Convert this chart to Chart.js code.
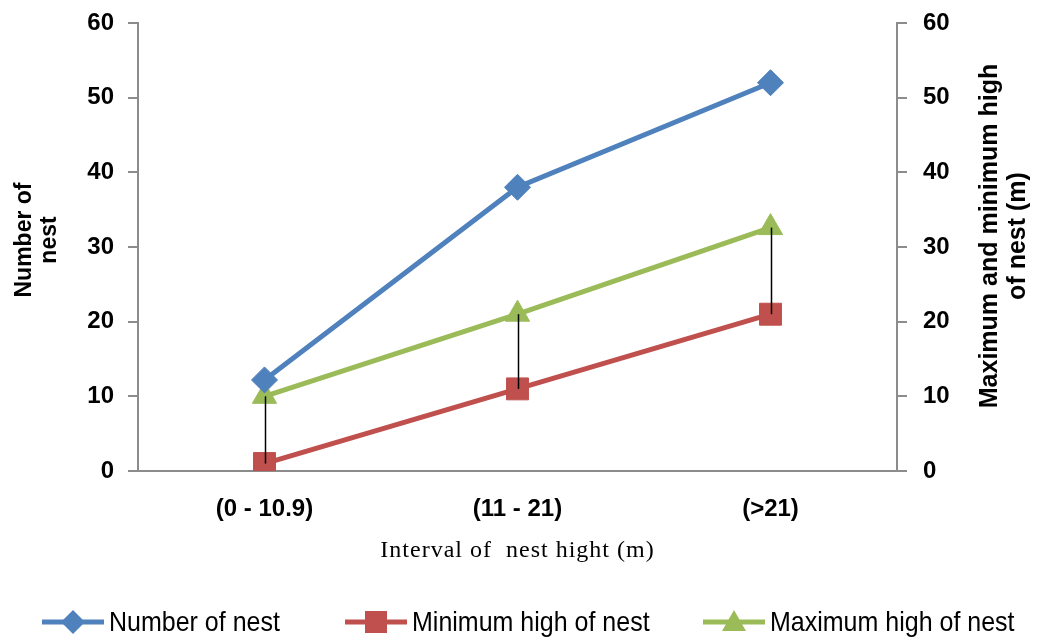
<!DOCTYPE html>
<html>
<head>
<meta charset="utf-8">
<script src="https://cdn.jsdelivr.net/npm/chart.js@4.4.1/dist/chart.umd.min.js"></script>
<style>
  html, body { margin: 0; padding: 0; background: #fff; }
  #wrap { position: relative; width: 1037px; height: 637px; overflow: hidden; }
  #legend { position: absolute; left: 0; top: 606px; width: 1037px; height: 31px; }
  .item { position: absolute; top: 0; display: flex; align-items: center; height: 31px;
          font-family: "Liberation Sans", Arial, sans-serif; font-size: 25px; color: #000; white-space: nowrap; }
  .item span { display: inline-block; transform: scaleY(1.12); }
  .item svg { margin-right: 3px; }
</style>
</head>
<body>
<div id="wrap">
  <canvas id="c" width="1037" height="637"></canvas>
  <div id="legend"></div>
</div>
<script>
// Nest height classes and counts
const categories = ['(0 - 10.9)', '(11 - 21)', '(>21)'];
const numberOfNest = [12.2, 38, 52];
const minHigh = [1, 11, 21];
const maxHigh = [10, 21, 32.6];
const yTicks = [0, 10, 20, 30, 40, 50, 60];

const seriesNames = ['Number of nest', 'Minimum high of nest', 'Maximum high of nest'];
const colors = ['#4F81BD', '#C0504D', '#9BBB59'];

const axisGray = '#8c8c8c';
const tickFont = { family: 'Liberation Sans, Arial, sans-serif', size: 24, weight: 'bold' };

// vertical high-low connectors between max and min heights
const hiLowLines = {
  id: 'hiLowLines',
  afterDatasetsDraw(chart) {
    const ctx = chart.ctx, x = chart.scales.x, y2 = chart.scales.y2;
    ctx.save();
    ctx.strokeStyle = '#000';
    ctx.lineWidth = 1.5;
    categories.forEach((c, i) => {
      const px = Math.round(x.getPixelForValue(i)) + 0.5;
      ctx.beginPath();
      ctx.moveTo(px, y2.getPixelForValue(maxHigh[i]));
      ctx.lineTo(px, y2.getPixelForValue(minHigh[i]));
      ctx.stroke();
    });
    ctx.restore();
  }
};

// axis titles drawn bottom-to-top on both sides, plus the category axis title
const axisTitles = {
  id: 'axisTitles',
  afterDraw(chart) {
    const ctx = chart.ctx, area = chart.chartArea;
    const midY = (area.top + area.bottom) / 2;
    ctx.save();
    ctx.fillStyle = '#000';
    ctx.textAlign = 'center';
    ctx.textBaseline = 'middle';
    const drawRot = (lines, cx, cy, gap) => {
      ctx.save();
      ctx.translate(cx, cy);
      ctx.rotate(-Math.PI / 2);
      lines.forEach((t, k) => ctx.fillText(t, 0, (k - (lines.length - 1) / 2) * gap));
      ctx.restore();
    };
    ctx.font = 'bold 23px "Liberation Sans", Arial, sans-serif';
    drawRot(['Number of', 'nest'], 37, midY - 7, 25);
    ctx.font = 'bold 25px "Liberation Sans", Arial, sans-serif';
    drawRot(['Maximum and minimum high', 'of nest (m)'], 1004, midY - 11, 28);

    ctx.font = '24px "Liberation Serif", "Times New Roman", serif';
    if ('letterSpacing' in ctx) ctx.letterSpacing = '1px';
    ctx.fillText('Interval of  nest hight (m)', (area.left + area.right) / 2, 551);
    ctx.restore();
  }
};

const ds = (label, data, color, style, radius, axis) => ({
  label, data, yAxisID: axis,
  borderColor: color, backgroundColor: color,
  borderWidth: 5, pointStyle: style, pointRadius: radius, pointHoverRadius: radius,
  pointBorderWidth: 1, pointBackgroundColor: color, pointBorderColor: color,
  tension: 0, fill: false
});

// fixed axis band widths; end labels may overhang the plot edges
const fitVertical = width => s => {
  s.width = width;
  s.paddingTop = 0;
  s.paddingBottom = 0;
};

new Chart(document.getElementById('c'), {
  type: 'line',
  data: {
    labels: categories,
    datasets: [
      ds(seriesNames[0], numberOfNest, colors[0], 'rectRot', 13, 'y'),
      ds(seriesNames[1], minHigh, colors[1], 'rect', 15.5, 'y2'),
      ds(seriesNames[2], maxHigh, colors[2], 'triangle', 14, 'y2')
    ]
  },
  options: {
    responsive: false,
    devicePixelRatio: 1,
    animation: false,
    layout: { padding: { top: 23, bottom: 66, left: 0, right: 0 } },
    plugins: { legend: { display: false }, tooltip: { enabled: false } },
    scales: {
      x: {
        type: 'category',
        offset: true,
        grid: { display: false, drawTicks: false },
        border: { color: axisGray, width: 2 },
        ticks: { color: '#000', font: tickFont, padding: 24 },
        afterFit: s => { s.height = 100; }
      },
      y: {
        position: 'left',
        min: 0, max: 60,
        afterBuildTicks: s => { s.ticks = yTicks.map(v => ({ value: v })); },
        grid: { drawOnChartArea: false, drawTicks: true, tickLength: 10, color: axisGray, lineWidth: 2 },
        border: { color: axisGray, width: 2 },
        ticks: { color: '#000', font: tickFont, padding: 14 },
        afterFit: fitVertical(138)
      },
      y2: {
        position: 'right',
        min: 0, max: 60,
        afterBuildTicks: s => { s.ticks = yTicks.map(v => ({ value: v })); },
        grid: { drawOnChartArea: false, drawTicks: true, tickLength: 10, color: axisGray, lineWidth: 2 },
        border: { color: axisGray, width: 2 },
        ticks: { color: '#000', font: tickFont, padding: 16 },
        afterFit: fitVertical(140)
      }
    }
  },
  plugins: [hiLowLines, axisTitles]
});

// legend: line segment with marker, then the series name
const legendX = [40, 343, 701];
const markers = [
  c => `<polygon points="33,1 45,13 33,25 21,13" fill="${c}"/>`,
  c => `<rect x="22" y="2" width="22" height="22" fill="${c}"/>`,
  c => `<polygon points="33,1 45,22 21,22" fill="${c}"/>`
];
const legend = document.getElementById('legend');
seriesNames.forEach((name, i) => {
  const item = document.createElement('div');
  item.className = 'item';
  item.style.left = legendX[i] + 'px';
  item.innerHTML =
    `<svg width="66" height="26" viewBox="0 0 66 26"><line x1="2" y1="13" x2="64" y2="13" stroke="${colors[i]}" stroke-width="5"/>${markers[i](colors[i])}</svg>` +
    `<span>${name}</span>`;
  legend.appendChild(item);
});
</script>
</body>
</html>
